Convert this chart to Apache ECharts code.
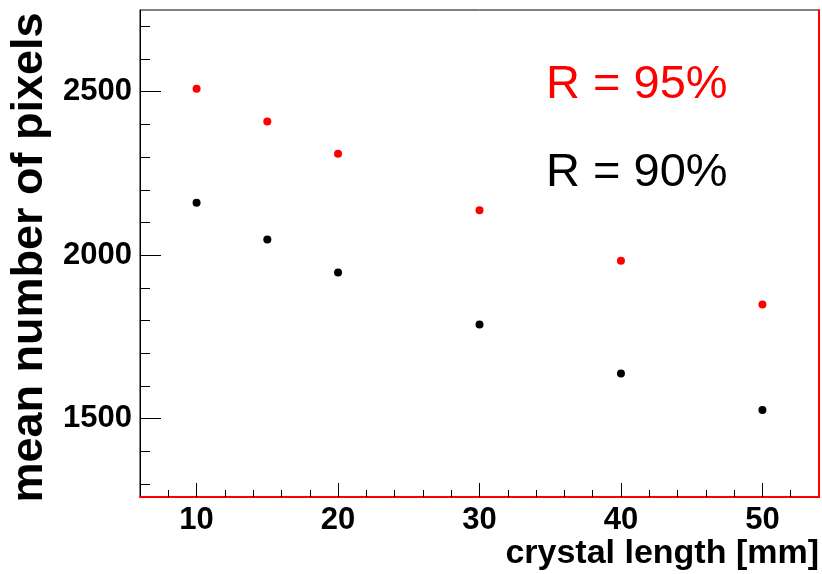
<!DOCTYPE html>
<html>
<head>
<meta charset="utf-8">
<script src="https://cdn.jsdelivr.net/npm/echarts@6/dist/echarts.min.js"></script>
<style>html,body{margin:0;padding:0;background:#fff}#c{width:822px;height:574px}</style>
</head>
<body>
<div id="c"></div>
<script>
var lengths = [10, 15, 20, 30, 40, 50];
var pixels95 = [2509, 2409, 2310, 2137, 1983, 1849];
var pixels90 = [2160, 2048, 1947, 1788, 1638, 1526];
var xMajorTicks = [10, 20, 30, 40, 50];
var xMinorTicks = [8, 12, 14, 16, 18, 22, 24, 26, 28, 32, 34, 36, 38, 42, 44, 46, 48, 52];
var yMajorTicks = [1500, 2000, 2500];
var yMinorTicks = [1300, 1400, 1600, 1700, 1800, 1900, 2100, 2200, 2300, 2400, 2600, 2700];
var legendTexts = ['R = 95%', 'R = 90%'];
var xTitle = 'crystal length [mm]';
var yTitle = 'mean number of pixels';

var FONT = '"Liberation Sans", Arial, sans-serif';
var XMIN = 6, XMAX = 54, YMIN = 1260, YMAX = 2750;

function pairs(xs, ys) { return xs.map(function (x, i) { return [x, ys[i]]; }); }
function plain(v) { return String(v); }

var chart = echarts.init(document.getElementById('c'), null, {renderer: 'canvas'});
chart.setOption({
  animation: false,
  backgroundColor: '#fff',
  grid: {left: 140, right: 3, top: 10, bottom: 77, show: true, borderColor: '#000', borderWidth: 1, backgroundColor: 'transparent', containLabel: false, outerBoundsMode: 'none'},
  xAxis: [{
    type: 'value', min: XMIN, max: XMAX, position: 'bottom',
    axisLine: {show: true, lineStyle: {color: '#ff0000', width: 2}},
    axisTick: {show: true, inside: true, length: 14, customValues: xMajorTicks, lineStyle: {color: '#000', width: 1}},
    axisLabel: {show: true, customValues: xMajorTicks, formatter: plain, margin: 8, fontFamily: FONT, fontWeight: 'bold', fontSize: 31, color: '#000'},
    splitLine: {show: false}
  }, {
    type: 'value', min: XMIN, max: XMAX, position: 'bottom',
    axisLine: {show: false},
    axisTick: {show: true, inside: true, length: 7, customValues: xMinorTicks, lineStyle: {color: '#000', width: 1}},
    axisLabel: {show: false},
    splitLine: {show: false}
  }],
  yAxis: [{
    type: 'value', min: YMIN, max: YMAX, position: 'left',
    name: yTitle, nameLocation: 'middle', nameRotate: 90, nameGap: 78,
    nameTextStyle: {fontFamily: FONT, fontWeight: 'bold', fontSize: 45, color: '#000', padding: [0, 8, 0, 0]},
    axisLine: {show: true, lineStyle: {color: '#000', width: 1}},
    axisTick: {show: true, inside: true, length: 21, customValues: yMajorTicks, lineStyle: {color: '#000', width: 1}},
    axisLabel: {show: true, customValues: yMajorTicks, formatter: plain, margin: 8, fontFamily: FONT, fontWeight: 'bold', fontSize: 31, color: '#000'},
    splitLine: {show: false}
  }, {
    type: 'value', min: YMIN, max: YMAX, position: 'left',
    axisLine: {show: false},
    axisTick: {show: true, inside: true, length: 10, customValues: yMinorTicks, lineStyle: {color: '#000', width: 1}},
    axisLabel: {show: false},
    splitLine: {show: false}
  }, {
    type: 'value', min: YMIN, max: YMAX, position: 'right',
    axisLine: {show: true, lineStyle: {color: '#ff0000', width: 2}},
    axisTick: {show: false}, axisLabel: {show: false}, splitLine: {show: false}
  }],
  graphic: [
    {type: 'text', left: 546, top: 62, style: {text: legendTexts[0], fill: '#ff0000', font: '47px ' + FONT}},
    {type: 'text', left: 546, top: 150, style: {text: legendTexts[1], fill: '#000', font: '47px ' + FONT}},
    {type: 'text', right: 3, top: 537, style: {text: xTitle, fill: '#000', font: 'bold 34px ' + FONT}}
  ],
  series: [{
    name: legendTexts[0], type: 'scatter', xAxisIndex: 0, yAxisIndex: 0,
    symbol: 'circle', symbolSize: 8, itemStyle: {color: '#ff0000', opacity: 1},
    data: pairs(lengths, pixels95)
  }, {
    name: legendTexts[1], type: 'scatter', xAxisIndex: 0, yAxisIndex: 0,
    symbol: 'circle', symbolSize: 8, itemStyle: {color: '#000', opacity: 1},
    data: pairs(lengths, pixels90)
  }]
});
</script>
</body>
</html>
